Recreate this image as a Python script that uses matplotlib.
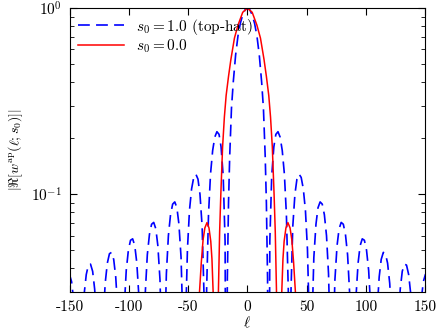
import numpy as np
import matplotlib
matplotlib.use("Agg")
import matplotlib.pyplot as plt

plt.rcParams['font.family'] = 'serif'
plt.rcParams['font.serif'] = ['cmr10', 'DejaVu Serif']
plt.rcParams['mathtext.fontset'] = 'cm'
plt.rcParams['axes.formatter.use_mathtext'] = True
plt.rcParams['axes.unicode_minus'] = False
plt.rcParams['lines.scale_dashes'] = False

# |Re[w^ap]|, positive ell only (curves are symmetric)
ell_tophat = [0, 2, 4, 6, 8, 10, 12, 13.5, 15, 16, 17,
              17.8, 18.9, 20.5, 22.3, 24.0, 25.8, 27.6, 29.4, 31.2, 32.9, 34.5,
              35.6, 36.7, 38.3, 40.1, 41.8, 43.6, 45.4, 47.2, 49.0, 50.7, 52.3,
              53.4, 54.5, 56.1, 57.9, 59.6, 61.4, 63.2, 65.0, 66.8, 68.5, 70.1,
              71.2, 72.3, 73.9, 75.7, 77.4, 79.2, 81.0, 82.8, 84.6, 86.3, 87.9,
              89.0, 90.1, 91.7, 93.5, 95.2, 97.0, 98.8, 100.6, 102.4, 104.1, 105.7,
              106.8, 107.9, 109.5, 111.3, 113.0, 114.8, 116.6, 118.4, 120.2, 121.9, 123.5,
              124.6, 125.7, 127.3, 129.1, 130.8, 132.6, 134.4, 136.2, 138.0, 139.7, 141.3,
              142.4, 143.5, 145.1, 146.9, 148.6, 150.4, 152.2]
w_tophat = [1.0, 0.98, 0.92, 0.83, 0.71, 0.56, 0.40, 0.29, 0.16, 0.09, 0.035,
            0.001, 0.0562, 0.1257, 0.180, 0.210, 0.217, 0.203, 0.172, 0.1286, 0.0781, 0.0307,
            0.001, 0.0289, 0.0672, 0.100, 0.1207, 0.1284, 0.1233, 0.1070, 0.0818, 0.0507, 0.0202,
            0.001, 0.0195, 0.0459, 0.0692, 0.0847, 0.0911, 0.0886, 0.0777, 0.0600, 0.0375, 0.0151,
            0.001, 0.0147, 0.0348, 0.0530, 0.0652, 0.0707, 0.0691, 0.0610, 0.0474, 0.0298, 0.0120,
            0.001, 0.0118, 0.0281, 0.0429, 0.0530, 0.0577, 0.0567, 0.0502, 0.0391, 0.0247, 0.0100,
            0.001, 0.0098, 0.0235, 0.0360, 0.0447, 0.0488, 0.0480, 0.0427, 0.0333, 0.0211, 0.0086,
            0.001, 0.0084, 0.0202, 0.0310, 0.0386, 0.0422, 0.0417, 0.0371, 0.0290, 0.0184, 0.0075,
            0.001, 0.0074, 0.0177, 0.0273, 0.0340, 0.0372, 0.0368]

ell_s0 = [0, 4, 8, 11, 14, 16, 18, 19.5, 21, 22.5, 23.5, 24.5, 25.2, 25.8,
          27.8, 28.4, 29, 30, 31, 32.5, 34.2, 36, 37.5, 39, 40.5, 41.2, 41.8, 152]
w_s0 = [1.0, 0.95, 0.81, 0.69, 0.53, 0.43, 0.34, 0.26, 0.18, 0.10, 0.063, 0.031, 0.012, 0.001,
        0.001, 0.015, 0.03, 0.045, 0.056, 0.066, 0.0705, 0.066, 0.057, 0.043, 0.03, 0.015, 0.001, 0.001]


def mirror(x, y):
    x = np.asarray(x, float)
    y = np.asarray(y, float)
    return np.concatenate([-x[::-1], x[1:]]), np.concatenate([y[::-1], y[1:]])


fig = plt.figure(figsize=(4.37, 3.34), dpi=100)
ax = fig.add_axes([0.160, 0.1266, 0.8125, 0.849])

x1, y1 = mirror(ell_tophat, w_tophat)
x2, y2 = mirror(ell_s0, w_s0)
ax.plot(x1, y1, color='#0000ff', lw=1.2, dashes=(8.5, 4.5), label=r'$s_0 = 1.0$ (top-hat)')
ax.plot(x2, y2, color='#ff0000', lw=1.1, label=r'$s_0 = 0.0$')

ax.set_yscale('log')
ax.set_xlim(-150, 150)
ax.set_ylim(0.03, 1.0)
ax.set_xticks([-150, -100, -50, 0, 50, 100, 150])
ax.set_xticklabels(['-150', '-100', '-50', '0', '50', '100', '150'])
ax.tick_params(which='both', direction='in', top=True, right=True, labelsize=11)
ax.tick_params(which='major', length=5, pad=6)
ax.tick_params(which='minor', length=2.8)
ax.yaxis.set_minor_formatter(matplotlib.ticker.NullFormatter())

ax.set_xlabel(r'$\ell$', fontsize=11, labelpad=1)
ax.set_ylabel(r'$|\Re[w^{\rm ap}(\ell;s_0)]|$', fontsize=10, labelpad=4)

ax.legend(loc='upper left', frameon=False, fontsize=11, handlelength=3.0,
          borderaxespad=0.15, labelspacing=0.05, handletextpad=0.8)

fig.savefig("out.png", dpi=100)
